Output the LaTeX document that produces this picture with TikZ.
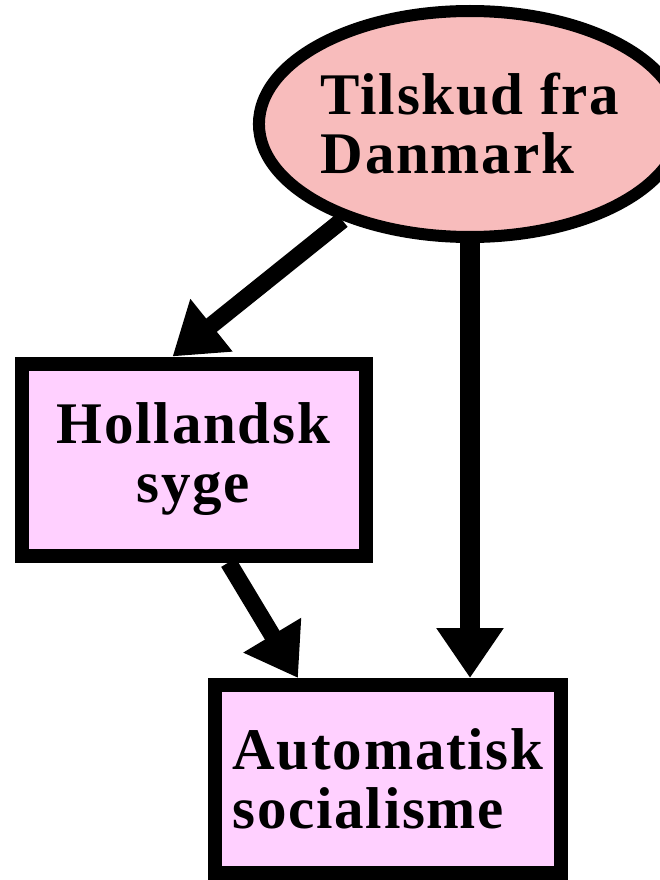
\documentclass[tikz,border=0pt]{standalone}
\usepackage{fontspec}
\setmainfont[LetterSpace=3]{Liberation Serif}
\usetikzlibrary{shapes,arrows.meta}

\definecolor{ovalred}{RGB}{248,188,188}
\definecolor{boxpink}{RGB}{255,208,255}
\newcommand{\bigfont}{\fontsize{59}{59}\selectfont\bfseries}

\begin{document}
\begin{tikzpicture}[x=1pt,y=-1pt,
  cause/.style={draw,ellipse,line width=12pt,fill=ovalred,align=left,inner sep=0pt,font=\bigfont},
  effect/.style={draw,rectangle,line width=14pt,fill=boxpink,inner sep=0pt,font=\bigfont},
  push/.style={-{Triangle[length=50pt,width=64pt]},line width=17pt}]
\useasboundingbox (0,0) rectangle (660,880);
\node[cause,minimum width=358pt,minimum height=226pt] (tilskud) at (470,124) {Tilskud fra\\Danmark};
\node[effect,align=center,minimum width=344pt,minimum height=192pt] (holl) at (193.5,459.5) {Hollandsk\\syge};
\node[effect,align=left,minimum width=346pt,minimum height=188pt] (auto) at (388,779) {Automatisk\\socialisme};
\draw[push] (tilskud.217) -- ([xshift=-21]holl.north);
\draw[push,line width=20pt] (tilskud.south) -- (tilskud.south |- auto.north);
\draw[push] ([xshift=35]holl.south) -- ([xshift=-90]auto.north);
\end{tikzpicture}
\end{document}
